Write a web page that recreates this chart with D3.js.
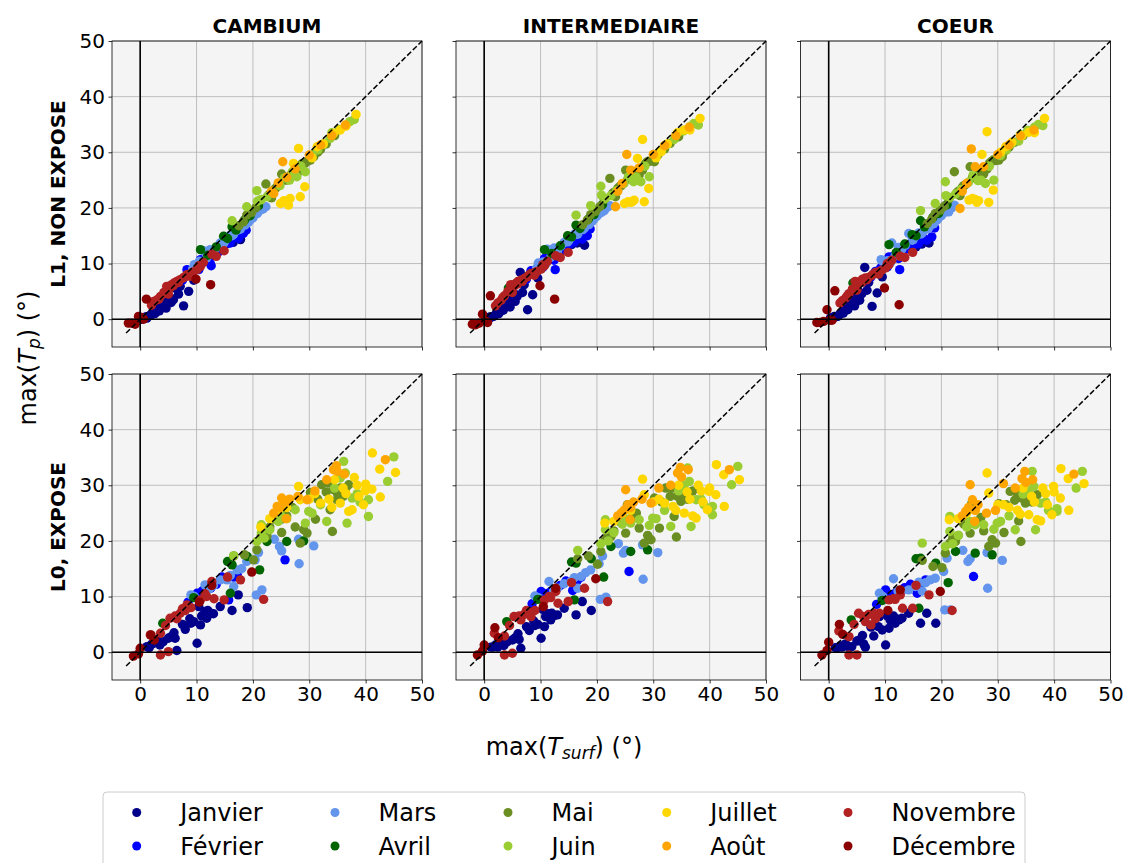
<!DOCTYPE html>
<html><head><meta charset="utf-8">
<script src="https://cdn.jsdelivr.net/npm/d3@7"></script>
<style>
body{margin:0;background:#fff;}
svg text{font-family:"DejaVu Sans",sans-serif;}
</style></head>
<body><svg id="chart" width="1127" height="863"></svg>
<script>
const months = ["Janvier","Février","Mars","Avril","Mai","Juin","Juillet","Août","Novembre","Décembre"];
const monthColors = ["#00008b","#0000ff","#6495ed","#006400","#6b8e23","#9acd32","#ffd700","#ffa500","#b22222","#8b0000"];
const columnTitles = ["CAMBIUM","INTERMEDIAIRE","COEUR"];
const rowTitles = ["L1, NON EXPOSE","L0, EXPOSE"];
const tickValues = [0,10,20,30,40,50];

// max(T_surf) per month, row L1 (non exposé)
const L1_tsurf = [
 [0.3,0.8,1.2,1.6,2.0,2.4,2.8,3.2,3.6,4.0,4.4,4.8,5.3,5.9,6.4,7.1,7.7,8.6,9.5,12.8,15.5,17.8, 1.0,1.8,2.6,3.4,4.6,5.5,6.8,16.5],
 [7.5,8.3,9.2,10.0,10.4,10.7,11.5,12.4,12.6,13.2,14.0,15.2,16.0,17.4,18.3, 13.8,14.6,15.6,16.8,18.8],
 [9.3,9.6,10.5,11.2,11.8,12.4,13.0,13.6,14.2,14.8,15.4,16.0,16.6,17.2,17.8,18.3,18.9,19.5,20.3,21.3,11.0, 15.0,16.3,17.5,18.6,19.2,20.0,20.8,21.8,22.3],
 [4.3,10.7,12.0,13.5,14.8,15.5,16.3,17.0,18.5,19.5,21.0],
 [17.5,18.3,18.9,19.8,20.5,21.3,22.3,22.8,23.7,24.3,25.1,26.0,26.8,27.5,28.1,28.8,29.6,30.2,30.8,31.5,33.0,34.5, 23.0,24.0,25.5,27.0,28.5,29.2,31.0,32.0,23.3],
 [16.3,18.9,20.7,21.5,22.5,23.5,24.8,25.6,26.5,27.8,29.3,30.5,31.5,32.5,33.7,35.3,36.5,38.0,20.8, 27.0,28.5,34.0,37.2],
 [24.9,25.5,26.3,26.6,27.2,28.1,28.4,29.2,30.5,31.4,32.5,34.3,35.5,36.5,38.3,26.0],
 [23.3,23.7,24.5,25.3,26.0,27.5,30.0,32.0,34.0,36.4],
 [2.0,2.4,3.0,3.6,4.2,4.7,5.2,5.6,6.0,6.5,7.1,7.6,8.3,8.9,9.4,10.1,10.7,11.2,12.7,13.5,14.9,5.0, 3.3,4.4,5.9,6.8,7.9,9.0,10.4],
 [-2.1,-1.5,-0.9,-0.3,0.2,1.1,12.5,0.6,9.9]
];
const L1_cambium = [
 [0.0,0.3,0.2,0.6,0.8,1.3,1.2,1.8,2.2,2.8,2.6,3.5,3.9,3.5,5.5,5.9,2.4,5.0,7.0,11.5,13.6,14.3, 0.4,0.7,1.0,1.5,2.0,3.0,4.5,13.8],
 [7.0,8.9,8.6,9.5,8.9,10.7,10.6,10.1,9.6,12.0,12.5,13.5,13.7,14.5,15.4, 12.0,13.2,13.8,14.8,16.0],
 [9.0,9.8,10.4,12.3,11.0,12.5,12.2,12.9,13.7,13.6,14.6,15.1,15.3,16.0,16.2,17.2,17.6,17.8,18.8,19.6,10.3, 14.0,15.0,16.1,16.9,17.4,18.2,19.0,19.8,20.2],
 [4.8,12.5,11.5,13.0,14.9,14.5,16.6,16.0,17.8,18.6,20.4],
 [16.8,17.5,18.7,19.2,20.0,21.4,24.3,22.3,23.2,23.8,26.1,25.0,26.0,26.5,26.5,28.0,28.3,28.6,29.2,30.0,31.5,33.0, 22.5,23.5,25.0,26.3,27.7,28.0,29.8,30.5,21.8],
 [17.7,20.2,23.1,21.5,22.0,22.8,24.0,25.4,25.0,25.6,26.5,29.5,30.4,31.5,32.5,34.1,34.8,35.9,21.2, 26.5,27.5,33.5,35.5],
 [20.8,21.3,20.5,21.7,28.0,30.7,22.0,23.8,29.0,31.0,31.5,33.4,34.0,34.7,36.8,21.0],
 [23.0,22.6,24.5,28.3,25.5,27.0,29.5,31.3,33.0,34.9],
 [2.5,3.2,3.5,4.1,4.8,5.9,5.5,6.2,6.5,6.8,7.1,7.4,8.0,7.7,8.5,8.9,9.5,10.2,11.7,11.3,12.3,4.5, 3.6,4.7,6.0,6.6,7.6,8.2,9.6],
 [-0.7,-0.7,-0.9,0.5,0.3,3.6,6.2,0.0,7.2]
];
const L1_intermediaire = [
 [0.1,0.2,0.3,0.5,0.8,1.1,1.5,1.9,2.5,3.1,3.0,4.0,4.6,4.2,8.4,6.2,1.7,4.4,7.4,11.8,13.4,13.3, 0.4,0.6,1.0,1.6,2.2,3.2,4.8,13.7],
 [7.2,8.7,8.8,9.8,9.3,10.9,11.0,10.6,8.9,12.2,12.8,13.5,13.9,14.4,15.0, 12.3,13.4,14.0,14.7,16.2],
 [9.2,10.1,10.3,12.6,11.1,12.8,12.3,13.1,13.8,13.9,14.7,15.3,15.3,16.2,16.4,17.3,17.8,18.0,18.9,19.5,10.0, 14.1,15.2,16.1,17.0,17.6,18.5,19.2,20.1,20.4],
 [5.6,12.5,11.8,13.2,15.0,14.8,16.9,16.3,18.0,18.8,20.6],
 [17.0,17.8,18.8,19.4,20.2,21.5,25.3,22.6,23.5,24.0,26.8,25.3,26.2,25.9,26.8,28.2,28.4,28.3,29.5,30.4,31.6,32.8, 22.8,23.8,25.2,26.6,27.8,28.4,29.9,30.6,22.0],
 [18.7,20.4,23.9,21.7,22.2,23.1,24.4,25.6,24.7,24.7,25.6,29.2,30.3,31.4,32.3,33.8,34.6,34.9,22.3, 25.5,27.5,33.0,35.2],
 [20.8,21.1,21.1,21.4,28.9,32.3,21.1,23.5,29.0,30.1,31.5,33.5,34.0,34.0,36.1,21.0],
 [20.2,23.0,24.4,29.6,26.8,27.2,29.6,31.2,33.0,34.5],
 [2.4,2.9,3.4,4.2,5.0,6.2,5.8,6.4,6.8,7.0,7.3,7.6,8.2,7.9,8.6,9.0,9.6,10.4,11.4,11.1,12.0,4.8, 3.9,5.0,6.3,6.8,7.9,8.4,9.8],
 [-0.9,-1.0,-0.7,0.9,-0.3,4.2,3.6,-0.6,6.0]
];
const L1_coeur = [
 [0.2,0.3,0.4,0.5,0.9,1.2,1.6,2.1,2.7,3.4,3.3,4.4,5.0,4.6,9.3,6.6,2.3,4.7,7.6,12.0,13.0,13.7, 0.5,0.7,1.1,1.7,2.4,3.4,5.2,13.5],
 [7.6,8.6,9.2,10.3,9.4,11.2,11.3,10.9,8.9,12.4,13.0,13.4,13.6,14.2,14.8, 12.6,13.6,14.1,14.6,16.4],
 [10.7,10.4,10.5,13.7,11.4,12.9,12.6,13.3,15.4,14.2,14.9,15.5,15.5,16.3,16.5,17.4,17.9,18.2,19.1,19.3,10.2, 14.3,15.3,16.2,17.1,17.8,18.6,19.3,20.0,20.5],
 [6.5,13.4,12.0,13.5,15.2,15.0,17.7,16.6,18.3,19.0,20.6],
 [17.2,18.0,19.0,19.6,20.3,21.6,26.5,22.8,23.7,24.2,27.4,25.5,26.5,26.1,27.0,28.3,28.5,28.6,29.2,30.4,31.8,33.0, 23.0,24.0,25.4,26.9,28.0,28.6,30.0,30.9,22.2],
 [19.5,20.8,24.7,21.9,22.5,23.3,24.6,25.8,24.9,24.4,25.0,29.4,30.4,31.6,32.0,33.9,34.5,34.8,22.2, 25.0,27.5,33.2,35.0],
 [21.4,21.7,21.0,21.3,29.6,33.7,21.0,23.2,30.0,31.0,31.8,33.0,33.6,33.5,36.1,21.5],
 [19.9,23.0,24.4,30.6,27.4,27.4,29.6,31.3,33.0,34.0],
 [2.9,3.3,3.8,4.6,5.4,6.8,6.3,6.8,7.2,7.4,7.5,7.8,8.4,8.1,8.8,9.2,9.8,10.6,11.3,11.1,12.0,5.2, 4.2,5.3,6.6,7.1,8.1,8.6,10.0],
 [-0.6,-0.6,-0.4,1.7,-0.2,5.1,2.6,-0.2,5.6]
];

// max(T_surf) per month, row L0 (exposé)
const L0_tsurf = [
 [1.2,2.0,2.4,3.0,4.1,5.0,6.2,6.5,7.5,8.0,9.0,10.1,10.4,10.7,10.9,11.5,11.8,12.5,13.0,14.2,16.3,17.4,19.0,6.0, 1.6,2.8,3.5,5.5,8.8,9.5,12.0],
 [8.5,9.5,10.1,11.0,11.8,12.5,13.5,14.5,15.7,16.6,17.2,25.7],
 [9.0,9.6,11.5,12.3,14.2,15.4,16.0,16.6,17.2,18.0,18.9,20.4,20.6,21.0,21.6,23.8,24.7,25.1,28.1,28.2,30.8,13.0],
 [4.0,9.5,15.5,16.0,16.3,19.0,21.2,22.5,26.0,29.0],
 [16.6,18.5,20.1,20.7,21.5,22.5,23.0,23.9,24.5,25.1,25.1,25.4,26.0,27.0,28.4,29.6,30.2,31.1,32.2,33.4,33.7,34.1,34.3,34.9,36.0,37.0,35.5,29.0, 22.0,24.0,27.5,31.5,33.0,35.0,36.5],
 [16.6,20.7,21.5,21.5,23.0,24.5,26.0,27.5,29.3,29.9,30.5,33.1,35.5,36.1,36.4,36.7,37.6,38.5,40.5,40.5,43.9,45.0,22.0,32.0, 34.5,39.0,25.0],
 [21.4,23.0,24.5,26.0,28.1,28.4,30.0,32.0,33.5,35.5,36.5,37.0,37.6,38.0,38.5,39.6,39.9,41.1,41.2,42.5,42.6,45.3,34.5,31.0, 36.0,38.8,40.0,34.0],
 [23.7,24.3,25.1,25.5,26.5,28.0,29.6,31.0,33.1,34.3,35.0,36.2,43.5,25.9, 24.8,26.0,34.8],
 [1.8,3.6,3.6,5.0,5.3,6.2,7.1,8.3,9.0,10.7,11.5,12.7,13.1,14.9,15.5,17.8,21.9,7.5,6.5, 4.5,8.0,11.8],
 [-1.2,-0.3,0.0,1.9,2.5,12.7,19.8,10.5]
];
const L0_cambium = [
 [1.0,1.4,1.6,2.2,1.9,2.5,2.5,0.3,5.0,4.1,5.2,1.6,8.2,4.9,6.5,7.3,6.1,7.0,6.9,8.2,7.5,10.3,8.0,3.5, 0.8,1.9,1.3,2.8,6.0,5.5,7.5],
 [9.0,10.0,10.6,11.0,11.2,11.5,12.2,13.5,9.4,13.5,14.0,16.6],
 [10.3,10.0,12.1,11.4,13.0,13.0,13.8,11.8,14.8,15.0,16.3,16.6,10.3,17.9,11.2,20.3,19.0,18.2,20.3,15.9,19.1,12.0],
 [5.2,9.8,16.3,10.6,15.7,17.2,14.8,19.9,19.9,20.0],
 [17.3,17.5,16.6,18.4,21.0,20.9,22.5,23.9,25.0,21.5,23.9,25.6,24.5,26.0,19.6,21.4,28.7,23.9,30.1,30.4,25.6,21.7,29.2,27.4,28.0,30.1,29.5,22.0, 21.5,24.8,22.5,27.5,28.8,28.5,29.5],
 [17.3,19.9,22.9,21.5,22.0,23.5,24.0,25.6,23.2,25.3,25.0,23.5,31.3,34.3,32.2,23.2,27.7,28.5,24.4,27.4,30.7,35.1,20.5,26.5, 29.5,27.0,24.5],
 [22.5,24.0,25.5,26.0,29.8,27.4,27.5,26.8,27.5,26.8,28.5,25.3,25.6,31.4,30.0,26.5,29.0,29.3,35.8,32.9,27.9,32.3,31.0,28.5, 29.5,28.0,30.2,26.0],
 [25.0,26.2,27.7,27.0,27.5,28.0,27.4,29.0,31.0,32.8,32.5,32.0,34.6,24.0, 26.0,27.0,33.5],
 [3.1,3.4,-0.5,0.1,6.1,6.5,7.0,8.5,8.0,9.4,10.5,12.7,9.6,9.4,13.5,13.0,9.5,7.8,6.0, 4.8,7.5,10.0],
 [-0.7,-0.3,0.7,3.1,2.2,12.0,14.4,9.0]
];
const L0_intermediaire = [
 [0.9,1.3,0.9,1.8,1.9,2.2,2.3,0.7,4.6,3.9,4.8,2.5,7.7,4.6,6.4,6.9,5.8,6.6,6.7,7.9,6.7,9.1,7.5,3.3, 0.9,1.7,1.2,2.6,5.6,5.0,7.0],
 [8.7,9.8,10.9,10.5,10.9,11.3,12.0,12.8,11.1,13.0,13.5,14.5],
 [10.1,9.8,12.7,11.0,12.3,12.7,13.4,11.5,13.6,14.3,14.8,15.9,9.5,17.3,9.9,19.5,17.8,18.3,19.3,13.1,17.9,11.5],
 [5.5,9.5,16.2,9.4,16.0,16.8,13.5,19.0,18.1,18.4],
 [16.8,17.3,15.8,18.1,20.2,20.8,21.8,24.4,24.2,21.4,23.8,26.5,24.0,25.0,19.6,20.2,27.7,22.3,29.5,29.5,24.4,20.7,28.0,27.1,27.5,29.0,28.5,21.0, 21.2,23.5,22.3,27.0,28.0,27.8,28.7],
 [18.3,19.5,23.8,22.0,21.5,23.0,23.2,23.8,22.8,24.1,24.0,22.6,30.0,33.1,30.7,22.6,27.4,27.5,24.7,26.2,30.1,33.4,20.0,25.5, 29.0,26.5,24.0],
 [23.2,23.5,25.0,25.5,31.1,28.3,27.0,26.8,26.2,25.0,27.5,24.5,24.1,30.0,29.0,25.6,28.9,28.3,33.7,31.9,26.2,31.0,30.0,27.5, 28.8,27.0,29.5,25.5],
 [24.5,25.0,29.2,26.5,27.0,27.5,26.8,29.5,30.0,32.2,31.5,32.8,32.8,23.8, 25.5,26.0,33.2],
 [3.4,2.9,-0.5,-0.2,6.4,6.5,6.8,6.4,7.5,9.4,10.0,10.9,8.8,9.1,12.5,11.5,9.1,7.5,5.8, 4.8,7.2,9.8],
 [-0.5,0.2,1.3,4.4,2.6,11.5,13.2,8.2]
];
const L0_coeur = [
 [0.8,1.1,0.9,1.5,1.0,2.0,1.5,0.9,4.5,2.9,6.4,1.3,6.5,4.3,5.8,6.5,5.2,5.8,6.1,7.0,5.2,7.0,5.2,3.0, 0.8,1.3,1.0,2.2,4.6,4.0,6.0],
 [8.6,9.6,11.2,10.3,10.6,11.0,11.6,12.2,10.6,12.5,13.0,13.6],
 [10.6,10.0,13.2,11.0,11.2,11.8,12.6,11.0,12.5,13.0,13.3,14.5,7.6,16.9,7.6,18.3,16.3,16.8,17.9,11.5,16.5,11.0],
 [5.8,9.3,16.8,7.9,16.9,16.0,12.5,18.1,17.8,17.5],
 [16.5,15.4,15.2,17.8,19.6,19.9,21.0,23.2,23.5,21.4,23.2,26.8,23.5,24.2,19.0,19.6,26.7,21.5,28.9,28.6,23.6,19.9,27.7,26.8,27.0,28.3,27.8,20.2, 20.5,23.0,21.8,26.5,27.3,27.0,28.0],
 [19.6,19.0,24.4,21.7,21.0,22.5,22.9,22.9,22.1,23.2,23.5,22.0,29.0,32.5,29.8,22.0,26.8,27.0,25.3,25.8,29.5,32.5,19.5,24.5, 28.4,25.5,23.5],
 [23.8,24.0,25.0,25.5,32.2,28.6,26.5,26.0,25.5,24.7,27.0,23.8,23.6,29.5,28.5,24.7,29.8,27.7,33.0,31.2,25.5,30.3,29.5,26.5, 28.0,26.5,28.8,24.8],
 [24.5,25.3,30.1,27.4,26.5,25.0,25.5,30.3,29.5,31.2,30.5,31.0,32.0,23.5, 26.0,25.5,32.5],
 [3.8,2.8,-0.5,-0.5,7.0,6.4,6.8,6.0,7.0,9.4,9.6,10.3,7.9,7.9,12.0,10.3,7.5,4.9,5.5, 5.0,7.0,9.5],
 [-0.5,0.3,1.8,5.0,3.2,11.2,10.9,7.5]
];

const rows = [
  {tsurf: L1_tsurf, panels: [L1_cambium, L1_intermediaire, L1_coeur]},
  {tsurf: L0_tsurf, panels: [L0_cambium, L0_intermediaire, L0_coeur]}
];

const svg = d3.select("#chart");
const W = 310, H = 306;
const colX = [112, 456, 800.5], rowY = [41, 374];
const x = d3.scaleLinear().domain([-5, 50]).range([0, W]);
const y = d3.scaleLinear().domain([-5, 50]).range([H, 0]);

rows.forEach((row, ri) => {
  row.panels.forEach((panel, ci) => {
    const g = svg.append("g").attr("transform", `translate(${colX[ci]},${rowY[ri]})`);
    const cid = `clip${ri}${ci}`;
    g.append("clipPath").attr("id", cid).append("rect").attr("width", W).attr("height", H);
    g.append("rect").attr("width", W).attr("height", H).attr("fill", "#f4f4f4");
    g.selectAll(".gx").data(tickValues).enter().append("line")
      .attr("x1", d => x(d)).attr("x2", d => x(d)).attr("y1", 0).attr("y2", H)
      .attr("stroke", "#b0b0b0").attr("stroke-width", 0.8);
    g.selectAll(".gy").data(tickValues).enter().append("line")
      .attr("y1", d => y(d)).attr("y2", d => y(d)).attr("x1", 0).attr("x2", W)
      .attr("stroke", "#b0b0b0").attr("stroke-width", 0.8);
    const pts = g.append("g").attr("clip-path", `url(#${cid})`);
    months.forEach((m, mi) => {
      const xs = row.tsurf[mi], ys = panel[mi];
      const data = xs.map((v, i) => [v, ys[i]]);
      pts.selectAll(null).data(data).enter().append("circle")
        .attr("cx", d => x(d[0])).attr("cy", d => y(d[1])).attr("r", 4.7)
        .attr("fill", monthColors[mi]);
    });
    g.append("line").attr("x1", x(0)).attr("x2", x(0)).attr("y1", 0).attr("y2", H)
      .attr("stroke", "#000").attr("stroke-width", 1.6);
    g.append("line").attr("y1", y(0)).attr("y2", y(0)).attr("x1", 0).attr("x2", W)
      .attr("stroke", "#000").attr("stroke-width", 1.6);
    g.append("line").attr("x1", x(-2.5)).attr("y1", y(-2.5)).attr("x2", x(50)).attr("y2", y(50))
      .attr("stroke", "#000").attr("stroke-width", 1.5).attr("stroke-dasharray", "5.5,2.4");
    g.append("rect").attr("width", W).attr("height", H).attr("fill", "none")
      .attr("stroke", "#000").attr("stroke-width", 0.8);
    const ax = g.append("g").attr("transform", `translate(0,${H})`)
      .call(d3.axisBottom(x).tickValues(tickValues).tickSize(3.5).tickPadding(3.5)
        .tickFormat(ri === 1 ? d3.format("d") : () => ""));
    const ay = g.append("g")
      .call(d3.axisLeft(y).tickValues(tickValues).tickSize(3.5).tickPadding(3.5)
        .tickFormat(ci === 0 ? d3.format("d") : () => ""));
    [ax, ay].forEach(a => {
      a.select(".domain").remove();
      a.selectAll("line").attr("stroke", "#000").attr("stroke-width", 0.8);
      a.selectAll("text").attr("font-size", 20).attr("fill", "#000").attr("font-family", "DejaVu Sans");
    });
    if (ri === 0) {
      svg.append("text").attr("x", colX[ci] + W / 2).attr("y", 33)
        .attr("text-anchor", "middle").attr("font-weight", "bold").attr("font-size", 20)
        .text(columnTitles[ci]);
    }
  });
  svg.append("text").attr("transform", `translate(65,${rowY[ri] + H / 2}) rotate(-90)`)
    .attr("text-anchor", "middle").attr("font-weight", "bold").attr("font-size", 20)
    .text(rowTitles[ri]);
});

const yl = svg.append("text").attr("transform", "translate(36,358) rotate(-90)")
  .attr("text-anchor", "middle").attr("font-size", 24);
yl.append("tspan").text("max(");
yl.append("tspan").attr("font-style", "italic").text("T");
yl.append("tspan").attr("font-style", "italic").attr("font-size", 17).attr("dy", 4).text("p");
yl.append("tspan").attr("dy", -4).text(") (°)");

const xl = svg.append("text").attr("x", 564).attr("y", 755)
  .attr("text-anchor", "middle").attr("font-size", 24);
xl.append("tspan").text("max(");
xl.append("tspan").attr("font-style", "italic").text("T");
xl.append("tspan").attr("font-style", "italic").attr("font-size", 17).attr("dy", 4).text("surf");
xl.append("tspan").attr("dy", -4).text(") (°)");

const lg = svg.append("g");
lg.append("rect").attr("x", 103).attr("y", 792).attr("width", 922).attr("height", 90).attr("rx", 4)
  .attr("fill", "#fff").attr("stroke", "#cccccc").attr("stroke-width", 1);
const legCols = [136.7, 335, 508, 666.7, 848];
const legRows = [812.5, 846];
months.forEach((m, i) => {
  const c = Math.floor(i / 2), r = i % 2;
  lg.append("circle").attr("cx", legCols[c]).attr("cy", legRows[r]).attr("r", 4.5).attr("fill", monthColors[i]);
  lg.append("text").attr("x", legCols[c] + 43.5).attr("y", legRows[r] + 8.5)
    .attr("font-size", 24).attr("fill", "#000").text(m);
});
</script>
</body></html>
